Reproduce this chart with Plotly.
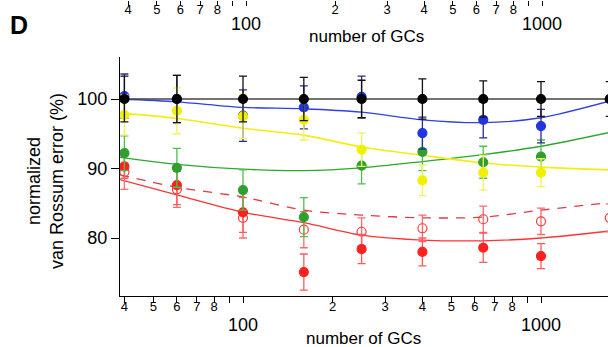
import plotly.graph_objects as go

# ---------------- data ----------------
n_gcs = [40, 60, 100, 160, 250, 400, 640, 1000]
n_gcs_edge = [40, 60, 100, 160, 250, 400, 640, 1000, 1700]

black_vals = [100, 100, 100, 100, 100, 100, 100, 100, 100]
black_err = [3.3, 3.4, 3.3, 3.1, 2.7, 2.9, 2.6, 2.5, 2.5]

blue_vals = [100.4, 100.0, 97.6, 98.8, 100.3, 95.1, 97.0, 96.1]
blue_err = [3.2, 3.4, 3.7, 3.1, 3.0, 2.3, 2.6, 2.4]

yellow_vals = [97.7, 98.3, 97.5, 97.0, 92.7, 88.3, 89.4, 89.4]
yellow_err = [2.9, 3.3, 3.2, 2.9, 2.4, 2.2, 2.5, 2.0]

green_vals = [92.2, 90.1, 86.9, 83.0, 90.4, 92.4, 90.9, 91.7]
green_err = [2.5, 2.8, 2.9, 2.8, 2.6, 2.7, 2.3, 2.4]

red_vals = [90.3, 87.6, 83.7, 75.1, 78.4, 78.0, 78.6, 77.4]
red_err = [1.7, 2.8, 2.9, 2.6, 2.1, 2.0, 2.1, 1.8]

red_open_vals = [89.5, 87.0, 82.9, 81.2, 80.9, 81.4, 82.7, 82.4, 82.9]
red_open_err = [2.5, 2.6, 2.9, 2.6, 2.0, 1.9, 1.9, 1.9, 2.0]

# fitted curves
fit_x = [38.6, 60, 100, 160, 250, 400, 640, 1000, 1700]
black_fit = [100, 100, 100, 100, 100, 100, 100, 100, 100]
blue_fit = [100.0, 99.6, 98.8, 98.6, 98.1, 97.0, 96.6, 97.3, 99.7]
yellow_fit = [98.0, 97.2, 95.8, 94.8, 93.1, 91.9, 90.8, 90.2, 89.8]
green_fit = [91.6, 90.6, 89.9, 89.7, 90.1, 91.0, 92.0, 93.2, 95.2]
red_fit = [88.4, 86.2, 83.7, 82.2, 80.4, 79.7, 79.6, 80.0, 81.0]
red_dash_fit = [89.1, 87.3, 85.9, 84.0, 83.3, 82.9, 83.0, 84.0, 85.1]

x_minor_vals = [40, 50, 60, 70, 80, 90, 200, 300, 400, 500, 600, 700, 800, 900, 100, 1000]
x_minor_text = ["4", "5", "6", "7", "8", "", "2", "3", "4", "5", "6", "7", "8", "", "", ""]
x_major_vals = [100, 1000]
x_major_text = ["100", "1000"]
y_tick_vals = [80, 90, 100]

# ---------------- figure ----------------
W, H = 608, 347
FONT = "Liberation Sans, Arial, Helvetica, sans-serif"

fig = go.Figure()

def add_fit(y, color, width=1.3, dash="solid"):
    fig.add_trace(go.Scatter(x=fit_x, y=y, mode="lines",
                             line=dict(color=color, width=width, dash=dash, shape="spline", smoothing=0.8),
                             hoverinfo="skip"))

add_fit(red_dash_fit, "#e03848", 1.3, "9px,8px")
add_fit(red_fit, "#ff3333", 1.3)
add_fit(green_fit, "#2aa82a", 1.3)
add_fit(yellow_fit, "#f2ee10", 1.6)
add_fit(blue_fit, "#3040e0", 1.3)
add_fit(black_fit, "#444444", 1.6)

def add_pts(x, y, err, color, ecolor, symbol="circle", size=9):
    fig.add_trace(go.Scatter(
        x=x, y=y, mode="markers",
        marker=dict(color=color, size=size, symbol=symbol,
                    line=dict(color=color, width=1.2)),
        error_y=dict(type="data", array=err, visible=True, color=ecolor, thickness=1.3, width=4),
    ))

add_pts(n_gcs_edge, red_open_vals, red_open_err, "#ff3a3a", "#ff6a6a", "circle-open", 9)
add_pts(n_gcs, red_vals, red_err, "#ff2020", "#ff5a5a")
add_pts(n_gcs, green_vals, green_err, "#2f9f2f", "#4cc04c")
add_pts(n_gcs, blue_vals, blue_err, "#2035e0", "#2a2a90")
add_pts(n_gcs, yellow_vals, yellow_err, "#f0f000", "#f4f060")
add_pts(n_gcs_edge, black_vals, black_err, "#000000", "#111111")

# invisible traces to activate the extra axes
fig.add_trace(go.Scatter(x=[None], y=[None], xaxis="x3", yaxis="y", showlegend=False))
fig.add_trace(go.Scatter(x=[None], y=[None], xaxis="x2", yaxis="y", showlegend=False))
fig.add_trace(go.Scatter(x=[None], y=[None], xaxis="x4", yaxis="y", showlegend=False))

x0 = 120 / W
px100, dec = 243.0, 298.0
xr = [2 - (px100 - 120) / dec, 2 + (W - px100) / dec]
px100t, dect = 246.0, 296.0
xrt = [2 - (px100t - 120) / dect, 2 + (W - px100t) / dect]

y100, per10 = 99.0, 69.5
y_top_px, y_bot_px = 57, 296
yr = [100 - (y_bot_px - y100) / per10 * 10, 100 + (y100 - y_top_px) / per10 * 10]

common_minor = dict(type="log", tickmode="array", tickvals=x_minor_vals, ticktext=x_minor_text,
                    ticks="outside", tickwidth=1.2, tickcolor="black",
                    tickfont=dict(family=FONT, size=13, color="black"),
                    showgrid=False, zeroline=False, ticklabelstandoff=-8)
common_major = dict(type="log", tickmode="array", tickvals=x_major_vals, ticktext=x_major_text,
                    ticks="outside", tickcolor="rgba(0,0,0,0)",
                    tickfont=dict(family=FONT, size=18, color="black"),
                    showgrid=False, zeroline=False, showline=False)

fig.update_layout(
    width=W, height=H, margin=dict(l=0, r=0, t=0, b=0, autoexpand=False),
    paper_bgcolor="white", plot_bgcolor="rgba(0,0,0,0)", showlegend=False,
    xaxis=dict(domain=[x0, 1], range=xr, anchor="y", showline=True, linecolor="black", linewidth=1.3,
               ticklen=6, **common_minor),
    xaxis3=dict(overlaying="x", range=xr, anchor="y", side="bottom", ticklen=12, **common_major),
    xaxis2=dict(domain=[x0, 1], range=xrt, anchor="free", position=1.0, side="bottom",
                showline=False, ticklen=5, **common_minor),
    xaxis4=dict(overlaying="x2", range=xrt, anchor="free", position=1.0, side="bottom", ticklen=7,
                **common_major),
    yaxis=dict(domain=[(H - y_bot_px) / H, (H - y_top_px) / H], range=yr,
               tickmode="array", tickvals=y_tick_vals, ticks="outside", ticklen=8, tickwidth=1.2,
               tickcolor="black", showline=True, linecolor="black", linewidth=1.3,
               showgrid=False, zeroline=False,
               tickfont=dict(family=FONT, size=18, color="black")),
    annotations=[
        dict(text="normalized<br>van Rossum error (%)", x=45 / W, y=(H - 181) / H, xref="paper", yref="paper",
             textangle=-90, showarrow=False, xanchor="center", yanchor="middle",
             font=dict(family=FONT, size=18, color="black")),
        dict(text="number of GCs", x=363 / W, y=(H - 338) / H, xref="paper", yref="paper",
             showarrow=False, xanchor="center", yanchor="middle",
             font=dict(family=FONT, size=17, color="black")),
        dict(text="number of GCs", x=367 / W, y=(H - 36) / H, xref="paper", yref="paper",
             showarrow=False, xanchor="center", yanchor="middle",
             font=dict(family=FONT, size=17, color="black")),
        dict(text="<b>D</b>", x=19 / W, y=(H - 25) / H, xref="paper", yref="paper",
             showarrow=False, xanchor="center", yanchor="middle",
             font=dict(family=FONT, size=25, color="black")),
    ],
)

fig.write_html("out.html", config={"displayModeBar": False},
               post_script="document.body.style.margin='0';document.body.style.padding='0';")
